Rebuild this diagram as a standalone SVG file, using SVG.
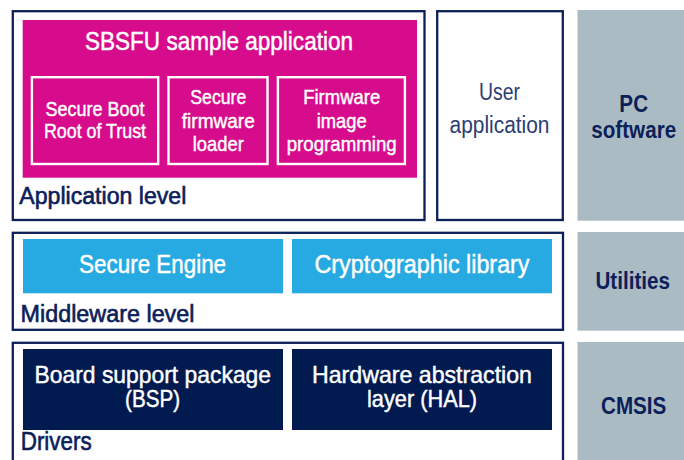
<svg xmlns="http://www.w3.org/2000/svg" width="684" height="460" viewBox="0 0 684 460">
  <style>
    text { font-family: "Liberation Sans Narrow", "Arial Narrow", "Liberation Sans", Arial, sans-serif; font-stretch: condensed; }
    .frame { fill: #ffffff; stroke: #0b2059; stroke-width: 2.3; }
    .pink { fill: #d60c8c; }
    .sub { fill: none; stroke: #ffffff; stroke-width: 2.4; }
    .cyan { fill: #27aae1; }
    .navy { fill: #011a50; }
    .grey { fill: #abbbc4; }
    .w { fill: #ffffff; stroke: #ffffff; stroke-width: 0.45; }
    .lvl { fill: #0b2059; stroke: #0b2059; stroke-width: 0.6; font-size: 23px; }
    .side { fill: #0b2059; font-size: 24px; font-weight: bold; text-anchor: middle; }
    .user { fill: #2c3d73; font-size: 23px; }
    .t25 { font-size: 25px; }
    .t24 { font-size: 24px; }
    .t21 { font-size: 21px; }
    .mid { text-anchor: middle; }
  </style>

  <!-- Application level -->
  <g id="application-level">
    <rect class="frame" x="12.8" y="11.2" width="411.7" height="208.8"/>
    <text class="lvl" x="19.3" y="204" textLength="167" lengthAdjust="spacingAndGlyphs">Application level</text>
  </g>

  <g id="sbsfu-app">
    <rect class="pink" x="22.7" y="20" width="394.3" height="157.7"/>
    <text class="w t25 mid" x="219" y="50" textLength="268" lengthAdjust="spacingAndGlyphs">SBSFU sample application</text>
  </g>

  <g id="secure-boot">
    <rect class="sub" x="31.9" y="77.2" width="126.3" height="86.8"/>
    <text class="w t21 mid" x="95" y="115.7" textLength="99" lengthAdjust="spacingAndGlyphs">Secure Boot</text>
    <text class="w t21 mid" x="95" y="138.3" textLength="102" lengthAdjust="spacingAndGlyphs">Root of Trust</text>
  </g>

  <g id="secure-loader">
    <rect class="sub" x="168.5" y="77.2" width="99" height="86.8"/>
    <text class="w t21 mid" x="218.3" y="104" textLength="56" lengthAdjust="spacingAndGlyphs">Secure</text>
    <text class="w t21 mid" x="218.3" y="128.3" textLength="73" lengthAdjust="spacingAndGlyphs">firmware</text>
    <text class="w t21 mid" x="218.3" y="150.7" textLength="51" lengthAdjust="spacingAndGlyphs">loader</text>
  </g>

  <g id="image-programming">
    <rect class="sub" x="277.9" y="77.2" width="127" height="86.8"/>
    <text class="w t21 mid" x="341.7" y="104" textLength="77" lengthAdjust="spacingAndGlyphs">Firmware</text>
    <text class="w t21 mid" x="341.7" y="128.3" textLength="50" lengthAdjust="spacingAndGlyphs">image</text>
    <text class="w t21 mid" x="341.7" y="150.7" textLength="110" lengthAdjust="spacingAndGlyphs">programming</text>
  </g>

  <g id="user-application">
    <rect class="frame" x="437.2" y="11.2" width="125.6" height="208.8"/>
    <text class="user mid" x="499.5" y="100" textLength="41" lengthAdjust="spacingAndGlyphs">User</text>
    <text class="user mid" x="499.5" y="133.3" textLength="100" lengthAdjust="spacingAndGlyphs">application</text>
  </g>

  <!-- side columns: bold labels squeezed horizontally to a condensed look -->
  <g id="pc-software">
    <rect class="grey" x="577.5" y="10" width="107" height="210.7"/>
    <text class="side" transform="translate(633.7 112) scale(0.86 1)">PC</text>
    <text class="side" transform="translate(633.7 138.3) scale(0.86 1)">software</text>
  </g>

  <!-- Middleware level -->
  <g id="middleware-level">
    <rect class="frame" x="12.8" y="232.8" width="550.2" height="97"/>
    <text class="lvl" x="20.5" y="321.7" textLength="174" lengthAdjust="spacingAndGlyphs">Middleware level</text>
  </g>

  <g id="secure-engine">
    <rect class="cyan" x="23" y="239" width="260" height="54.3"/>
    <text class="w t25 mid" x="152.6" y="272.7" textLength="147" lengthAdjust="spacingAndGlyphs">Secure Engine</text>
  </g>

  <g id="crypto-library">
    <rect class="cyan" x="292" y="239" width="260" height="54.3"/>
    <text class="w t25 mid" x="422" y="272.7" textLength="215" lengthAdjust="spacingAndGlyphs">Cryptographic library</text>
  </g>

  <g id="utilities">
    <rect class="grey" x="577.5" y="232" width="107" height="98.7"/>
    <text class="side" transform="translate(632.7 289.3) scale(0.86 1)">Utilities</text>
  </g>

  <!-- Drivers level -->
  <g id="drivers">
    <rect class="frame" x="12.8" y="342.8" width="550.2" height="130"/>
    <text class="lvl" x="20.7" y="450" style="font-size:25px" textLength="71" lengthAdjust="spacingAndGlyphs">Drivers</text>
  </g>

  <g id="bsp">
    <rect class="navy" x="23" y="349" width="260" height="81"/>
    <text class="w t24 mid" x="152.8" y="382.7" textLength="236.5" lengthAdjust="spacingAndGlyphs">Board support package</text>
    <text class="w t24 mid" x="152.6" y="407" textLength="55" lengthAdjust="spacingAndGlyphs">(BSP)</text>
  </g>

  <g id="hal">
    <rect class="navy" x="292" y="349" width="260" height="81"/>
    <text class="w t24 mid" x="422" y="382.7" textLength="220" lengthAdjust="spacingAndGlyphs">Hardware abstraction</text>
    <text class="w t24 mid" x="422" y="407" textLength="110" lengthAdjust="spacingAndGlyphs">layer (HAL)</text>
  </g>

  <g id="cmsis">
    <rect class="grey" x="577.5" y="342" width="107" height="120"/>
    <text class="side" transform="translate(633.7 414.3) scale(0.86 1)">CMSIS</text>
  </g>

  <g id="connectors"></g>
</svg>
